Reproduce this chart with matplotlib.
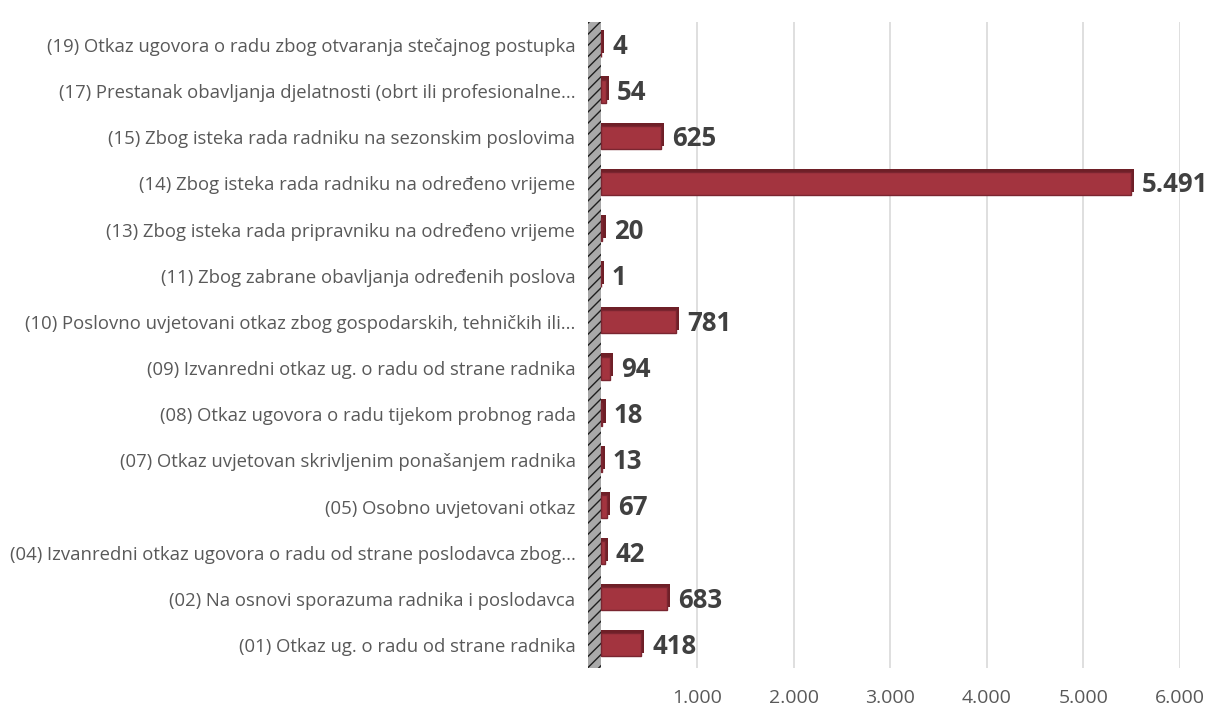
import matplotlib.pyplot as plt

categories = [
    "(01) Otkaz ug. o radu od strane radnika",
    "(02) Na osnovi sporazuma radnika i poslodavca",
    "(04) Izvanredni otkaz ugovora o radu od strane poslodavca zbog...",
    "(05) Osobno uvjetovani otkaz",
    "(07) Otkaz uvjetovan skrivljenim ponašanjem radnika",
    "(08) Otkaz ugovora o radu tijekom probnog rada",
    "(09) Izvanredni otkaz ug. o radu od strane radnika",
    "(10) Poslovno uvjetovani otkaz zbog gospodarskih, tehničkih ili...",
    "(11) Zbog zabrane obavljanja određenih poslova",
    "(13) Zbog isteka rada pripravniku na određeno vrijeme",
    "(14) Zbog isteka rada radniku na određeno vrijeme",
    "(15) Zbog isteka rada radniku na sezonskim poslovima",
    "(17) Prestanak obavljanja djelatnosti (obrt ili profesionalne...",
    "(19) Otkaz ugovora o radu zbog otvaranja stečajnog postupka",
]
values = [418, 683, 42, 67, 13, 18, 94, 781, 1, 20, 5491, 625, 54, 4]
ticks = [1000, 2000, 3000, 4000, 5000, 6000]
tick_labels = ["1.000", "2.000", "3.000", "4.000", "5.000", "6.000"]

plt.rcParams['font.family'] = ['Open Sans', 'DejaVu Sans']

fig = plt.figure(figsize=(12.27, 7.13), dpi=100)
ax = fig.add_axes([588 / 1227, 1 - 668 / 713, 592 / 1227, 646 / 713])

y = list(range(len(categories)))
# darker top/end face behind each bar to fake the 3D depth
ax.barh([yi + 0.07 for yi in y], [v + 35 for v in values], height=0.5, color='#6e1f27', linewidth=0, zorder=3)
ax.barh(y, values, height=0.5, color='#a3343f', edgecolor='#7a2530', linewidth=1, zorder=3)

# left "wall" of the 3D chart
ax.axvspan(-130, 0, facecolor='#a9a9a9', edgecolor='#1e1e1e', hatch='///', linewidth=0, zorder=2)

for yi, v in zip(y, values):
    ax.annotate(f"{v:,}".replace(",", "."), xy=(v, yi), xytext=(8, -1), textcoords='offset points',
                va='center', ha='left', fontsize=18.5, fontweight='bold', color='#404040', zorder=4)

ax.set_xlim(-130, 6000)
ax.set_ylim(-0.5, 13.5)
ax.set_xticks(ticks)
ax.set_xticklabels(tick_labels, fontsize=14, color='#595959')
ax.set_yticks(y)
ax.set_yticklabels(categories, fontsize=13.3, color='#595959')
ax.tick_params(axis='x', length=0, pad=15)
ax.tick_params(axis='y', length=0, pad=9)
ax.grid(axis='x', color='#d9d9d9', linewidth=1.2, zorder=0)
for s in ax.spines.values():
    s.set_visible(False)

plt.savefig('out.png', dpi=100)
